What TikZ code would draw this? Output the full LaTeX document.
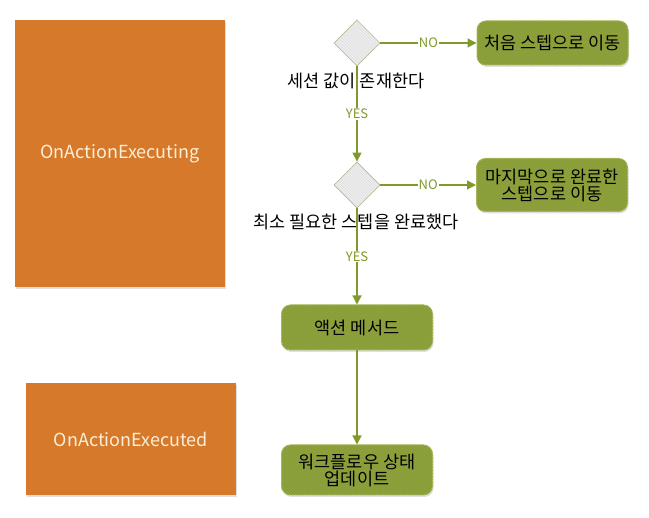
\documentclass[tikz,border=0pt]{standalone}
\usepackage{fontspec}
\setmainfont{Noto Sans CJK KR}
\usepackage{xcolor}
\usetikzlibrary{shapes.geometric,shadows,patterns,arrows.meta}

\definecolor{filterorange}{HTML}{D6792A}
\definecolor{filtertext}{HTML}{FBEFD9}
\definecolor{stepgreen}{HTML}{8FA33C}
\definecolor{stepstripe}{HTML}{86993A}
\definecolor{stepedge}{HTML}{A9BB5E}
\definecolor{flowline}{HTML}{7F9A2B}
\definecolor{decisionedge}{HTML}{B4B48E}

\tikzset{
	filterbox/.style={draw=none,fill=filterorange,text=filtertext,
		drop shadow={opacity=.25,shadow xshift=1pt,shadow yshift=-2pt},
		font=\fontsize{18}{21}\selectfont},
	stepbox/.style={rectangle,rounded corners=9pt,fill=stepgreen,draw=stepedge,line width=1pt,
		postaction={pattern=north west lines,pattern color=stepstripe},
		drop shadow={opacity=.25,shadow xshift=1pt,shadow yshift=-2pt},
		minimum width=151pt,align=center,font=\fontsize{17.5}{20}\selectfont},
	decision/.style={diamond,aspect=1,minimum width=46pt,minimum height=46pt,inner sep=0pt,
		fill=black!7,draw=decisionedge,line width=.8pt,
		postaction={pattern=north west lines,pattern color=black!12}},
	question/.style={font=\fontsize{17.5}{20}\selectfont},
	flow/.style={draw=flowline,line width=1.3pt,-{Triangle[length=9pt,width=9pt]}},
	answer/.style={fill=white,text=flowline,inner sep=1pt,font=\fontsize{13}{15}\selectfont}
}

\begin{document}
\begin{tikzpicture}[x=1pt,y=-1pt]
	\useasboundingbox (0,0) rectangle (649,518);

	% filter boxes
	\node[filterbox,minimum width=210pt,minimum height=267pt] (executing) at (120,153.5) {OnActionExecuting};
	\node[filterbox,minimum width=210pt,minimum height=112pt] (executed) at (131,439) {OnActionExecuted};

	% decisions
	\node[decision] (session) at (357,43) {};
	\node[question] (sessionlbl) at (356,81) {세션 값이 존재한다};
	\node[decision] (minstep) at (357,185) {};
	\node[question] (minsteplbl) at (356,222) {최소 필요한 스텝을 완료했다};

	% steps
	\node[stepbox,minimum height=44pt] (firststep) at (552.5,43) {처음 스텝으로 이동};
	\node[stepbox,minimum height=53pt] (laststep) at (552,185) {마지막으로 완료한\\[-3pt]스텝으로 이동};
	\node[stepbox,minimum height=45pt] (action) at (357,327.5) {액션 메서드};
	\node[stepbox,minimum height=50pt] (update) at (357,470) {워크플로우 상태\\[-3pt]업데이트};

	% connectors
	\draw[flow] (session.east) -- node[answer] {NO} (firststep.west);
	\draw[flow] (session.south) -- node[answer,pos=.5] {YES} (minstep.north);
	\draw[flow] (minstep.east) -- node[answer] {NO} (laststep.west);
	\draw[flow] (minstep.south) -- node[answer,pos=.5] {YES} (action.north);
	\draw[flow] (action.south) -- (update.north);
\end{tikzpicture}
\end{document}
